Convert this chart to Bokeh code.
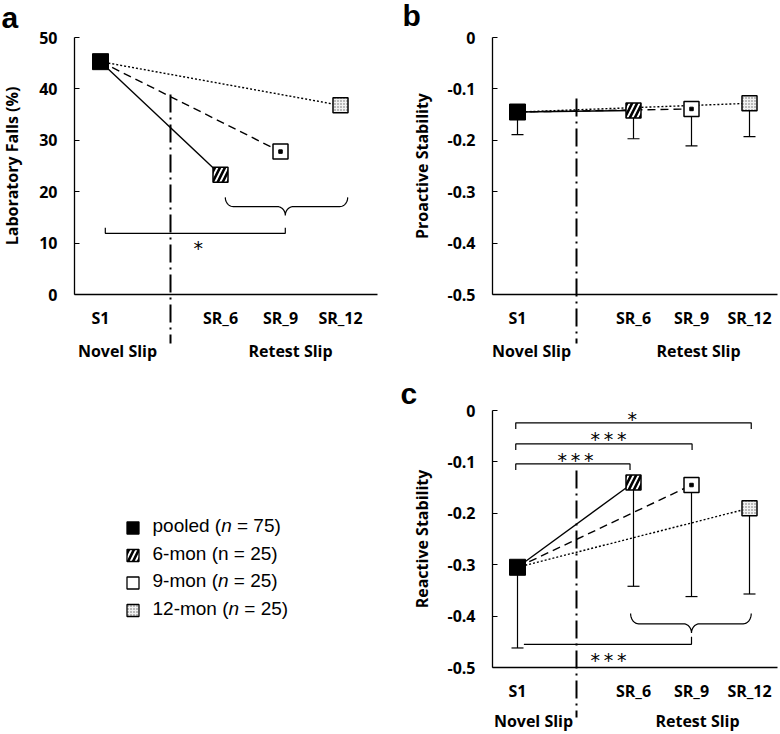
import numpy as np
from bokeh.plotting import figure
from bokeh.layouts import row, column
from bokeh.models import Range1d, FixedTicker
from bokeh.core.properties import value
from bokeh.embed import file_html
from bokeh.resources import INLINE

# ---------------- data ----------------
categories = ["S1", "SR_6", "SR_9", "SR_12"]
cat_pos = [0, 2, 3, 4]            # S1, gap, then the three retest slips
group_names = ["6-mon", "9-mon", "12-mon"]

falls_pooled = 45.3
falls_groups = [23.3, 27.8, 36.8]

pro_pooled, pro_pooled_low = -0.145, -0.189
pro_groups = [-0.142, -0.139, -0.128]
pro_groups_low = [-0.197, -0.211, -0.193]

rea_pooled, rea_pooled_low = -0.305, -0.462
rea_groups = [-0.140, -0.145, -0.190]
rea_groups_low = [-0.342, -0.362, -0.357]

yticks_a = [0, 10, 20, 30, 40, 50]
yticks_bc = [0, -0.1, -0.2, -0.3, -0.4, -0.5]
ytick_labels_bc = ["0", "-0.1", "-0.2", "-0.3", "-0.4", "-0.5"]

legend_rows = [["pooled (", "n", " = 75)"],
               ["6-mon (n = 25)", "", ""],
               ["9-mon (", "n", " = 25)"],
               ["12-mon (", "n", " = 25)"]]

# ---------------- styles ----------------
FONT = value("Open Sans")
line_dashes = ["solid", "8 5", "2 2"]
group_fill = [
    dict(fill_color="white", hatch_pattern="/", hatch_scale=10, hatch_weight=2.6, hatch_color="black"),
    dict(fill_color="white"),
    dict(fill_color="#f2f2f2", hatch_pattern=".", hatch_scale=3, hatch_weight=1.0, hatch_color="#666666"),
]
BASE_SHIFT = 0.34   # text is drawn this many ems below the given baseline; compensate


class Map:
    """pixel (inside figure) -> data value"""
    def __init__(self, px0, v0, px1, v1):
        self.k = (v1 - v0) / (px1 - px0)
        self.px0, self.v0 = px0, v0

    def __call__(self, px):
        return self.v0 + (px - self.px0) * self.k


def base_fig(w, h, X, Y):
    p = figure(width=w, height=h, x_range=Range1d(X(0), X(w)), y_range=Range1d(Y(h), Y(0)),
               output_backend="svg", toolbar_location=None,
               min_border_left=0, min_border_right=0, min_border_top=0, min_border_bottom=0)
    p.outline_line_color = None
    p.xgrid.visible = False
    p.ygrid.visible = False
    p.background_fill_color = "white"
    p.border_fill_color = "white"
    return p


def style_axes(p, x_at, xbounds, y_at, ybounds, yticks, ylabels, ytitle, ylab_standoff):
    xa = p.xaxis[0]
    ya = p.yaxis[0]
    xa.fixed_location = x_at
    xa.bounds = xbounds
    xa.ticker = FixedTicker(ticks=cat_pos)
    xa.major_label_overrides = {c: lab for c, lab in zip(cat_pos, categories)}
    ya.fixed_location = y_at
    ya.bounds = ybounds
    ya.ticker = FixedTicker(ticks=yticks)
    ya.major_label_overrides = {t: lab for t, lab in zip(yticks, ylabels)}
    ya.axis_label = ytitle
    ya.axis_label_standoff = ylab_standoff
    ya.axis_label_text_font = "Open Sans"
    ya.axis_label_text_font_style = "bold"
    ya.axis_label_text_font_size = "16px"
    ya.axis_label_text_color = "black"
    for ax in (xa, ya):
        ax.axis_line_color = "black"
        ax.axis_line_width = 1.3
        ax.major_tick_line_color = "black"
        ax.major_tick_line_width = 1.2
        ax.minor_tick_line_color = None
        ax.major_label_text_font = "Open Sans"
        ax.major_label_text_font_style = "bold"
        ax.major_label_text_font_size = "16px"
        ax.major_label_text_color = "black"
    xa.major_tick_in = 0
    xa.major_tick_out = 0
    xa.major_label_standoff = 12
    ya.major_tick_in = 5
    ya.major_tick_out = 0
    ya.major_label_standoff = 17


def brace(x0, x1, xm, y_end, y_flat, y_tip, rx, n=12):
    t = np.linspace(0, np.pi / 2, n)
    tr = t[::-1]
    d = y_flat - y_tip
    xs = list(x0 + rx * (1 - np.cos(t))) + list(xm - rx * (1 - np.sin(t))) + \
        list(xm + rx * (1 - np.sin(tr))) + list(x1 - rx * (1 - np.cos(tr)))
    ys = list(y_flat + (y_end - y_flat) * (1 - np.sin(t))) + list(y_flat - d * (1 - np.cos(t))) + \
        list(y_flat - d * (1 - np.cos(tr))) + list(y_flat + (y_end - y_flat) * (1 - np.sin(tr)))
    return xs, ys


def txt(p, x, y, s, size="16px", font=FONT, style="bold", align="center"):
    p.text(x=[x], y=[y], text=[s], text_font=font, text_font_style=style, text_font_size=size,
           text_align=align, text_baseline="alphabetic", text_color="black")


def label(p, X, Y, px_x, px_base, s, size=16, font=FONT, style="bold", align="center"):
    """place text whose baseline should sit at pixel row px_base"""
    txt(p, X(px_x), Y(px_base - BASE_SHIFT * size), s, size=f"{size}px", font=font,
        style=style, align=align)


def draw_series(p, pooled, groups, pooled_low=None, groups_low=None):
    x0 = cat_pos[0]
    gx = cat_pos[1:]
    # connecting lines from pooled S1 to each retest group
    for i in range(3):
        p.line([x0, gx[i]], [pooled, groups[i]], line_color="black", line_width=1.4,
               line_dash=line_dashes[i])
    # downward error bars
    if pooled_low is not None:
        xe = [x0] + gx
        ym = [pooled] + groups
        yl = [pooled_low] + groups_low
        p.segment(x0=xe, y0=ym, x1=xe, y1=yl, line_color="black", line_width=1.2)
        p.scatter(x=xe, y=yl, marker="dash", size=12, line_color="black", line_width=1.2)
    for i in range(3):
        p.scatter(x=[gx[i]], y=[groups[i]], marker="square", size=15, line_color="black",
                  line_width=1.5, **group_fill[i])
    # dashed 9-mon line ends in a dot at the marker centre
    p.scatter(x=[gx[1]], y=[groups[1]], marker="square", size=3.5, color="black")
    p.scatter(x=[x0], y=[pooled], marker="square", size=16, fill_color="black", line_color="black")


def divider(p, x, ytop, ybot):
    p.line([x, x], [ytop, ybot], line_color="black", line_width=2, line_dash="18 5 2 5")


STAR_FONT = value("DejaVu Sans")
STAR_SIZE = "19px"
TS = "\u2009"
STARS3 = "*" + TS + "*" + TS + "*"
LETTER_FONT = value("Liberation Sans")

# ================= panel a  (page = local) =================
WA, HA = 390, 370
XA = Map(100, 0, 340, 4)
YA = Map(37, 50, 294, 0)
pa = base_fig(WA, HA, XA, YA)
style_axes(pa, 0, (XA(74), XA(377)), XA(74), (0, 50), yticks_a, [str(t) for t in yticks_a],
           "Laboratory Falls (%)", 13)
divider(pa, XA(170), YA(94), YA(343))
draw_series(pa, falls_pooled, falls_groups)
bx, by = brace(2.08, 4.12, 3.08, 18.9, 17.1, 15.4, 0.133)
pa.line(bx, by, line_color="black", line_width=1.2)
pa.line([0.08, 0.08, 3.08, 3.08], [13.0, 11.9, 11.9, 13.0], line_color="black", line_width=1.2)
txt(pa, 1.63, YA(247), "*", size=STAR_SIZE, font=STAR_FONT, style="normal")
label(pa, XA, YA, 1, 27, "a", size=30, font=LETTER_FONT, align="left")
label(pa, XA, YA, 117, 356, "Novel Slip")
label(pa, XA, YA, 290, 356, "Retest Slip")

# ================= panel b  (local x = page - 390) =================
WB, HB = 388, 370
XB = Map(127, 0, 359, 4)
YB = Map(37, 0, 294, -0.5)
pb = base_fig(WB, HB, XB, YB)
style_axes(pb, -0.5, (XB(102), XB(387)), XB(102), (-0.5, 0), yticks_bc, ytick_labels_bc,
           "Proactive Stability", 11)
divider(pb, XB(186), YB(98), YB(343))
draw_series(pb, pro_pooled, pro_groups, pro_pooled_low, pro_groups_low)
label(pb, XB, YB, 12, 25, "b", size=30, font=LETTER_FONT, align="left")
label(pb, XB, YB, 141, 356, "Novel Slip")
label(pb, XB, YB, 308, 356, "Retest Slip")

# ================= panel c  (local x = page - 390, local y = page - 370) =================
WC, HC = 388, 362
XC = XB
YC = Map(40, 0, 297, -0.5)
pc = base_fig(WC, HC, XC, YC)
style_axes(pc, -0.5, (XC(102), XC(387)), XC(102), (-0.5, 0), yticks_bc, ytick_labels_bc,
           "Reactive Stability", 11)
divider(pc, XC(186), YC(100), YC(347))
draw_series(pc, rea_pooled, rea_groups, rea_pooled_low, rea_groups_low)
# significance brackets (S1 vs each retest)
sig_right = [4.03, 3.01, 1.94]
sig_y = [-0.024, -0.065, -0.104]
sig_txt = ["*", STARS3, STARS3]
sig_tx = [1.98, 1.57, 1.0]
sig_ty_px = [48, 68.7, 89]
for r, y, s, tx, ty in zip(sig_right, sig_y, sig_txt, sig_tx, sig_ty_px):
    pc.line([-0.03, -0.03, r, r], [y - 0.012, y, y, y - 0.012], line_color="black", line_width=1.2)
    txt(pc, tx, YC(ty), s, size=STAR_SIZE, font=STAR_FONT, style="normal")
bx, by = brace(1.95, 4.03, 3.0, -0.395, -0.415, -0.433, 0.138)
pc.line(bx, by, line_color="black", line_width=1.2)
pc.line([0.11, 3.0, 3.0], [-0.455, -0.455, -0.440], line_color="black", line_width=1.2)
txt(pc, 1.57, YC(289.7), STARS3, size=STAR_SIZE, font=STAR_FONT, style="normal")
label(pc, XC, YC, 10, 33, "c", size=30, font=LETTER_FONT, align="left")
label(pc, XC, YC, 143, 356, "Novel Slip")
label(pc, XC, YC, 307, 356, "Retest Slip")

# ================= legend  (local y = page - 370) =================
WL, HL = 390, 362
pl = figure(width=WL, height=HL, x_range=Range1d(0, WL), y_range=Range1d(HL, 0),
            output_backend="svg", toolbar_location=None,
            min_border_left=0, min_border_right=0, min_border_top=0, min_border_bottom=0)
pl.outline_line_color = None
pl.axis.visible = False
pl.xgrid.visible = False
pl.ygrid.visible = False

ARIAL_W = {'p': 556, 'o': 556, 'l': 222, 'e': 556, 'd': 556, ' ': 278, '(': 333, ')': 333,
           '=': 584, '-': 333, 'm': 833, 'n': 556}
for ch in "0123456789":
    ARIAL_W[ch] = 556


def text_w(s, size):
    return sum(ARIAL_W.get(c, 556) for c in s) * size / 1000.0


LFS = 19
row_cy = [157.5, 185, 212.5, 240]
legend_fill = [dict(fill_color="black")] + group_fill
for cy, fill, parts in zip(row_cy, legend_fill, legend_rows):
    pl.scatter(x=[132.5], y=[cy], marker="square", size=12, line_color="black", line_width=1.3, **fill)
    x = 152
    for j, part in enumerate(parts):
        if not part:
            continue
        lead = len(part) - len(part.lstrip(" "))
        x += text_w(" " * lead, LFS)
        body = part.lstrip(" ")
        pl.text(x=[x], y=[cy + 4 - BASE_SHIFT * LFS], text=[body], text_font=value("Liberation Sans"),
                text_font_style="italic" if j == 1 else "normal", text_font_size=f"{LFS}px",
                text_align="left", text_baseline="alphabetic", text_color="black")
        x += text_w(body, LFS)

layout = row(column(pa, pl), column(pb, pc))
open("out.html", "w").write(file_html(layout, INLINE))
